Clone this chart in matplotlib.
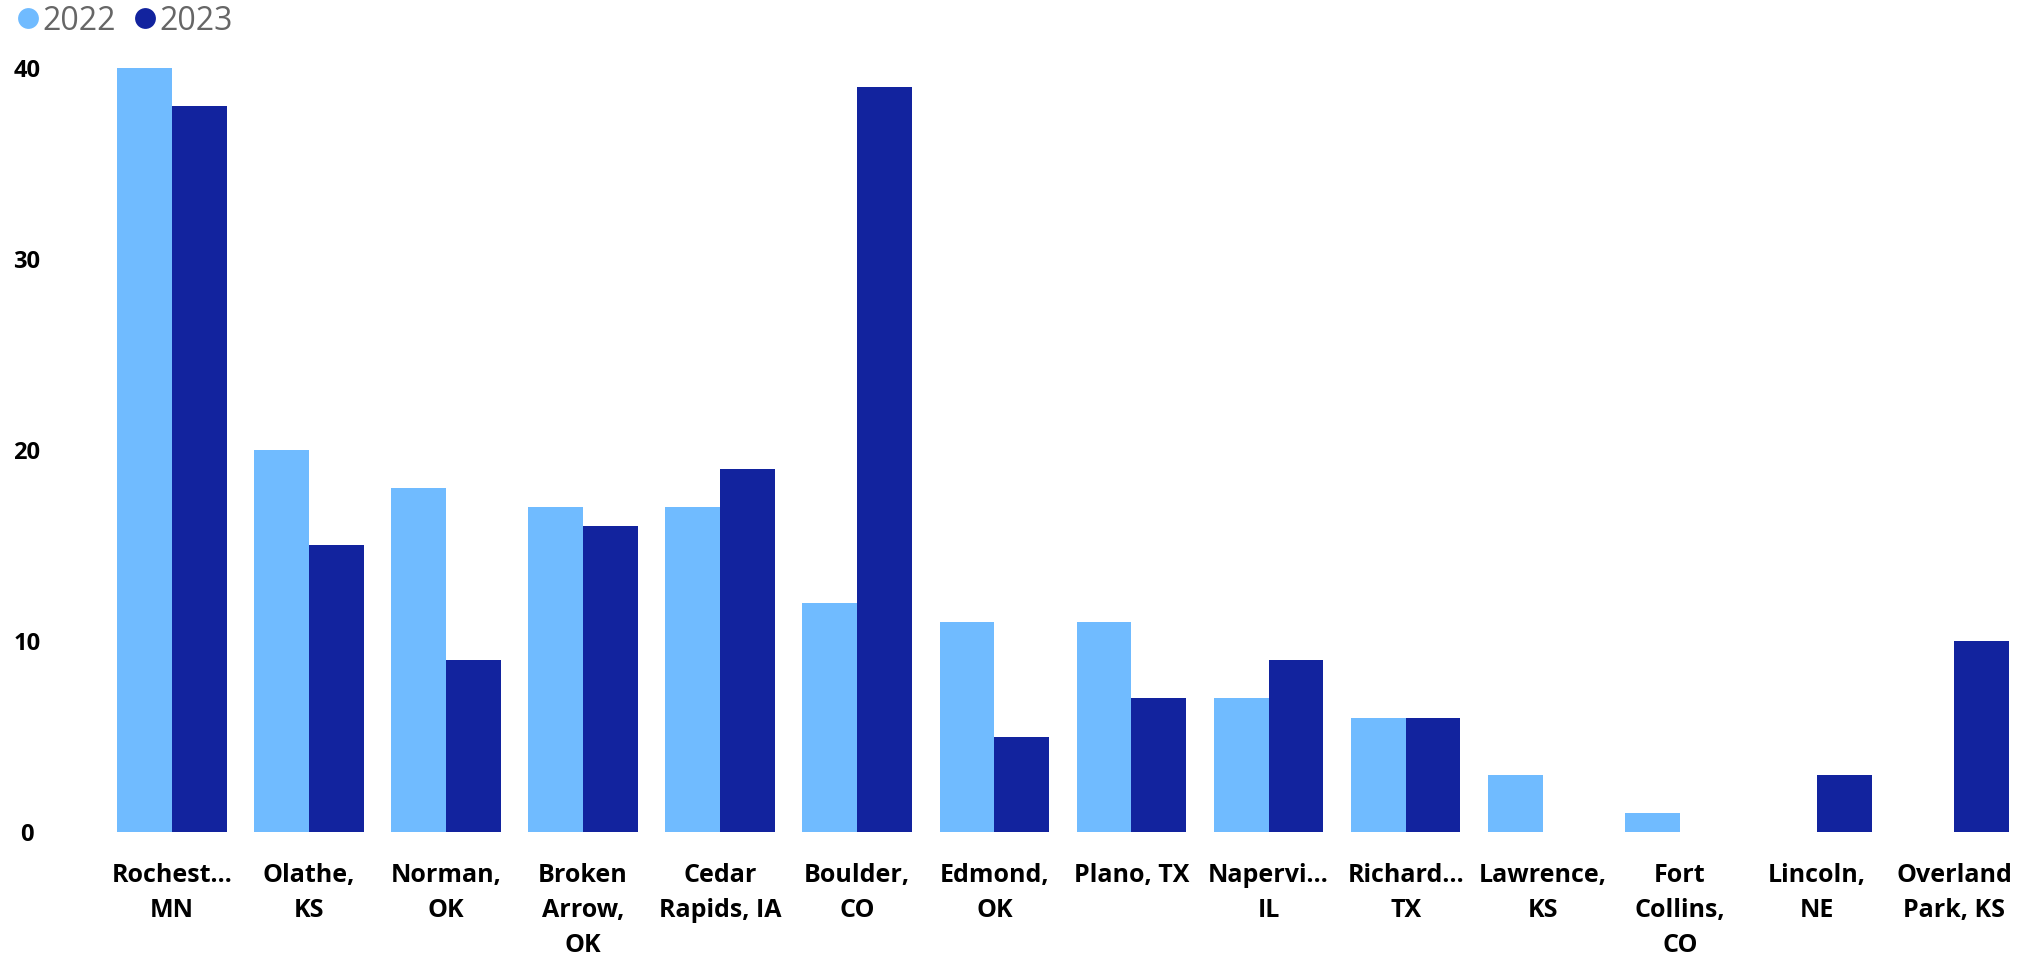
import matplotlib
matplotlib.use("Agg")
import matplotlib.pyplot as plt
from matplotlib.lines import Line2D
import numpy as np

categories = ["Rochest…\nMN", "Olathe,\nKS", "Norman,\nOK", "Broken\nArrow,\nOK",
              "Cedar\nRapids, IA", "Boulder,\nCO", "Edmond,\nOK", "Plano, TX",
              "Napervi…\nIL", "Richard…\nTX", "Lawrence,\nKS", "Fort\nCollins,\nCO",
              "Lincoln,\nNE", "Overland\nPark, KS"]
values_2022 = [40, 20, 18, 17, 17, 12, 11, 11, 7, 6, 3, 1, 0, 0]
values_2023 = [38, 15, 9, 16, 19, 39, 5, 7, 9, 6, 0, 0, 3, 10]
series_names = ["2022", "2023"]
yticks = [0, 10, 20, 30, 40]

c2022 = "#70BBFF"
c2023 = "#12239E"

plt.rcParams['font.family'] = ['Open Sans', 'DejaVu Sans']

fig = plt.figure(figsize=(20.36, 9.55), dpi=100)
ax = fig.add_axes([0.0507, 0.1285, 0.9427, 0.8008])

x = np.arange(len(categories))
w = 0.4
ax.bar(x - w/2, values_2022, width=w, color=c2022, linewidth=0)
ax.bar(x + w/2, values_2023, width=w, color=c2023, linewidth=0)

ax.set_xlim(-0.5, len(categories) - 0.5)
ax.set_ylim(0, 40)
ax.set_yticks(yticks)
ax.set_yticklabels([str(v) for v in yticks], fontsize=17, fontweight='bold', color='black', ha='center')
ax.set_xticks(x)
ax.set_xticklabels(categories, fontsize=18, fontweight='bold', color='black', linespacing=1.52, va='top')
ax.tick_params(axis='y', length=0, pad=55)
ax.tick_params(axis='x', length=0, pad=22)
for s in ax.spines.values():
    s.set_visible(False)

handles = [Line2D([], [], marker='o', linestyle='none', markersize=15, color=c2022, markeredgewidth=0),
           Line2D([], [], marker='o', linestyle='none', markersize=15, color=c2023, markeredgewidth=0)]
fig.legend(handles, series_names, loc='center left', bbox_to_anchor=(0.009, 1 - 21 / 955), ncol=2,
           frameon=False, fontsize=23, labelcolor='#666666', handlelength=0.6, handletextpad=0.15,
           columnspacing=0.6, borderaxespad=0, borderpad=0)

fig.savefig("out.png", dpi=100)
